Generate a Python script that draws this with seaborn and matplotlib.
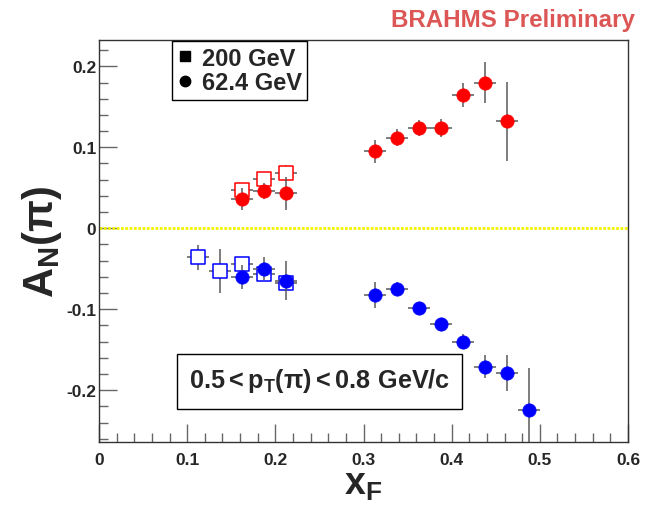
import numpy as np
import pandas as pd
import matplotlib
matplotlib.use("Agg")
import matplotlib.pyplot as plt
import seaborn as sns
from matplotlib.lines import Line2D
from matplotlib.patches import Rectangle
from matplotlib.ticker import MultipleLocator

# ---------------- data ----------------
# 62.4 GeV (filled circles)
x_624_pos = [0.1625, 0.1875, 0.2125, 0.3125, 0.3375, 0.3625, 0.3875, 0.4125, 0.4375, 0.4625]
y_624_pos = [0.036, 0.046, 0.043, 0.095, 0.112, 0.124, 0.124, 0.165, 0.180, 0.132]
e_624_pos = [0.014, 0.010, 0.020, 0.014, 0.010, 0.010, 0.011, 0.015, 0.025, 0.049]

x_624_neg = [0.1625, 0.1875, 0.2125, 0.3125, 0.3375, 0.3625, 0.3875, 0.4125, 0.4375, 0.4625, 0.4875]
y_624_neg = [-0.060, -0.050, -0.065, -0.082, -0.075, -0.098, -0.118, -0.140, -0.171, -0.179, -0.225]
e_624_neg = [0.015, 0.014, 0.024, 0.016, 0.009, 0.006, 0.006, 0.009, 0.014, 0.022, 0.052]

# 200 GeV (open squares)
x_200_pos = [0.1625, 0.1875, 0.2125]
y_200_pos = [0.047, 0.061, 0.068]
e_200_pos = [0.008, 0.008, 0.010]

x_200_neg = [0.1125, 0.1375, 0.1625, 0.1875, 0.2125]
y_200_neg = [-0.036, -0.053, -0.044, -0.057, -0.068]
e_200_neg = [0.015, 0.027, 0.008, 0.008, 0.010]

x_halfbin = 0.0125

legend_labels = ["200 GeV", "62.4 GeV"]
box_label = r"$0.5<p_T(\pi)<0.8\ GeV/c$"
header = "BRAHMS Preliminary"
x_title = "x$_\\mathbf{F}$"
y_title = "A$_\\mathbf{N}$(π)"

# ---------------- style ----------------
sns.set_theme(style="white")
plt.rcParams["font.family"] = ["Liberation Sans", "DejaVu Sans"]
plt.rcParams["font.weight"] = "bold"
plt.rcParams["mathtext.fontset"] = "custom"
plt.rcParams["mathtext.rm"] = "Liberation Sans:bold"
plt.rcParams["mathtext.bf"] = "Liberation Sans:bold"
plt.rcParams["mathtext.it"] = "Liberation Sans:bold"
plt.rcParams["mathtext.default"] = "bf"

W, H = 664, 506
fig = plt.figure(figsize=(W / 100, H / 100), dpi=100)
L, R, T, B = 99, 628, 41, 443
ax = fig.add_axes([L / W, 1 - B / H, (R - L) / W, (B - T) / H])

ecol = "#5a5a5a"

def series(xs, ys, es):
    return pd.DataFrame({"x": xs, "y": ys, "e": es})

d200p = series(x_200_pos, y_200_pos, e_200_pos)
d200n = series(x_200_neg, y_200_neg, e_200_neg)
d624p = series(x_624_pos, y_624_pos, e_624_pos)
d624n = series(x_624_neg, y_624_neg, e_624_neg)

# zero line (drawn over the tick marks, below the data)
ax.axhline(0, color="#f4f400", lw=2.0, ls=(0, (1.0, 0.55)), zorder=0.8)

# 200 GeV open squares
for d, c in [(d200p, "#ff0000"), (d200n, "#0000ff")]:
    ax.errorbar(d["x"], d["y"], yerr=d["e"], xerr=x_halfbin, fmt="none",
                ecolor=ecol, elinewidth=1.1, capsize=0, zorder=1)
    sns.scatterplot(data=d, x="x", y="y", ax=ax, marker="s", s=90,
                    color="white", edgecolor=c, linewidth=1.1, zorder=2)

# 62.4 GeV filled circles
for d, c in [(d624p, "#ff0000"), (d624n, "#0000ff")]:
    ax.errorbar(d["x"], d["y"], yerr=d["e"], xerr=x_halfbin, fmt="none",
                ecolor=ecol, elinewidth=1.1, capsize=0, zorder=3)
    sns.scatterplot(data=d, x="x", y="y", ax=ax, marker="o", s=92,
                    color=c, edgecolor=c, linewidth=0.5, zorder=4)

ax.set_xlim(0, 0.6)
ax.set_ylim(-0.264, 0.2325)

ax.xaxis.set_major_locator(MultipleLocator(0.1))
ax.xaxis.set_minor_locator(MultipleLocator(0.02))
ax.yaxis.set_major_locator(MultipleLocator(0.1))
ax.yaxis.set_minor_locator(MultipleLocator(0.02))
ax.xaxis.set_major_formatter(matplotlib.ticker.FuncFormatter(lambda v, p: f"{v:g}"))
ax.yaxis.set_major_formatter(matplotlib.ticker.FuncFormatter(lambda v, p: f"{v:g}" if abs(v) > 1e-9 else "0"))

ax.tick_params(which="major", direction="in", length=13, width=1, color="#666666",
               labelsize=12.5, top=False, right=False, left=True, bottom=True)
ax.tick_params(axis="y", which="major", pad=2)
ax.tick_params(axis="x", which="major", pad=7)
ax.tick_params(which="minor", direction="in", length=6.5, width=1, color="#666666",
               top=False, right=False, left=True, bottom=True)
for lab in ax.get_xticklabels() + ax.get_yticklabels():
    lab.set_fontweight("bold")
for sp in ax.spines.values():
    sp.set_color("#333333")
    sp.set_linewidth(1)

ax.set_xlabel(x_title, fontsize=27, fontweight="bold")
ax.set_ylabel(y_title, fontsize=30, fontweight="bold")
ax.xaxis.set_label_coords(0.5, -0.06)
ax.yaxis.set_label_coords(-0.066, 0.5)

# legend
handles = [Line2D([], [], marker="s", color="black", ls="none", markersize=7.5),
           Line2D([], [], marker="o", color="black", ls="none", markersize=7.5)]
leg = ax.legend(handles, legend_labels, loc="upper left", bbox_to_anchor=(0.138, 0.998),
                frameon=True, fancybox=False, edgecolor="black", framealpha=1,
                borderaxespad=0, prop={"size": 17, "weight": "bold"},
                handlelength=0.6, handletextpad=0.4, borderpad=0.25, labelspacing=0.05)
leg.get_frame().set_linewidth(1)

# text box
ax.add_patch(Rectangle((0.147, 0.082), 0.539, 0.137, transform=ax.transAxes,
                       facecolor="white", edgecolor="black", lw=1, zorder=5))
ax.text(0.417, 0.137, box_label, transform=ax.transAxes, ha="center", va="baseline",
        fontsize=18.2, fontweight="bold", zorder=6)

fig.text(635 / W, 1 - 27 / H, header, ha="right", va="baseline", color="#dc5656",
         fontsize=17.4, fontweight="bold")

fig.savefig("out.png", dpi=100, facecolor="white")
